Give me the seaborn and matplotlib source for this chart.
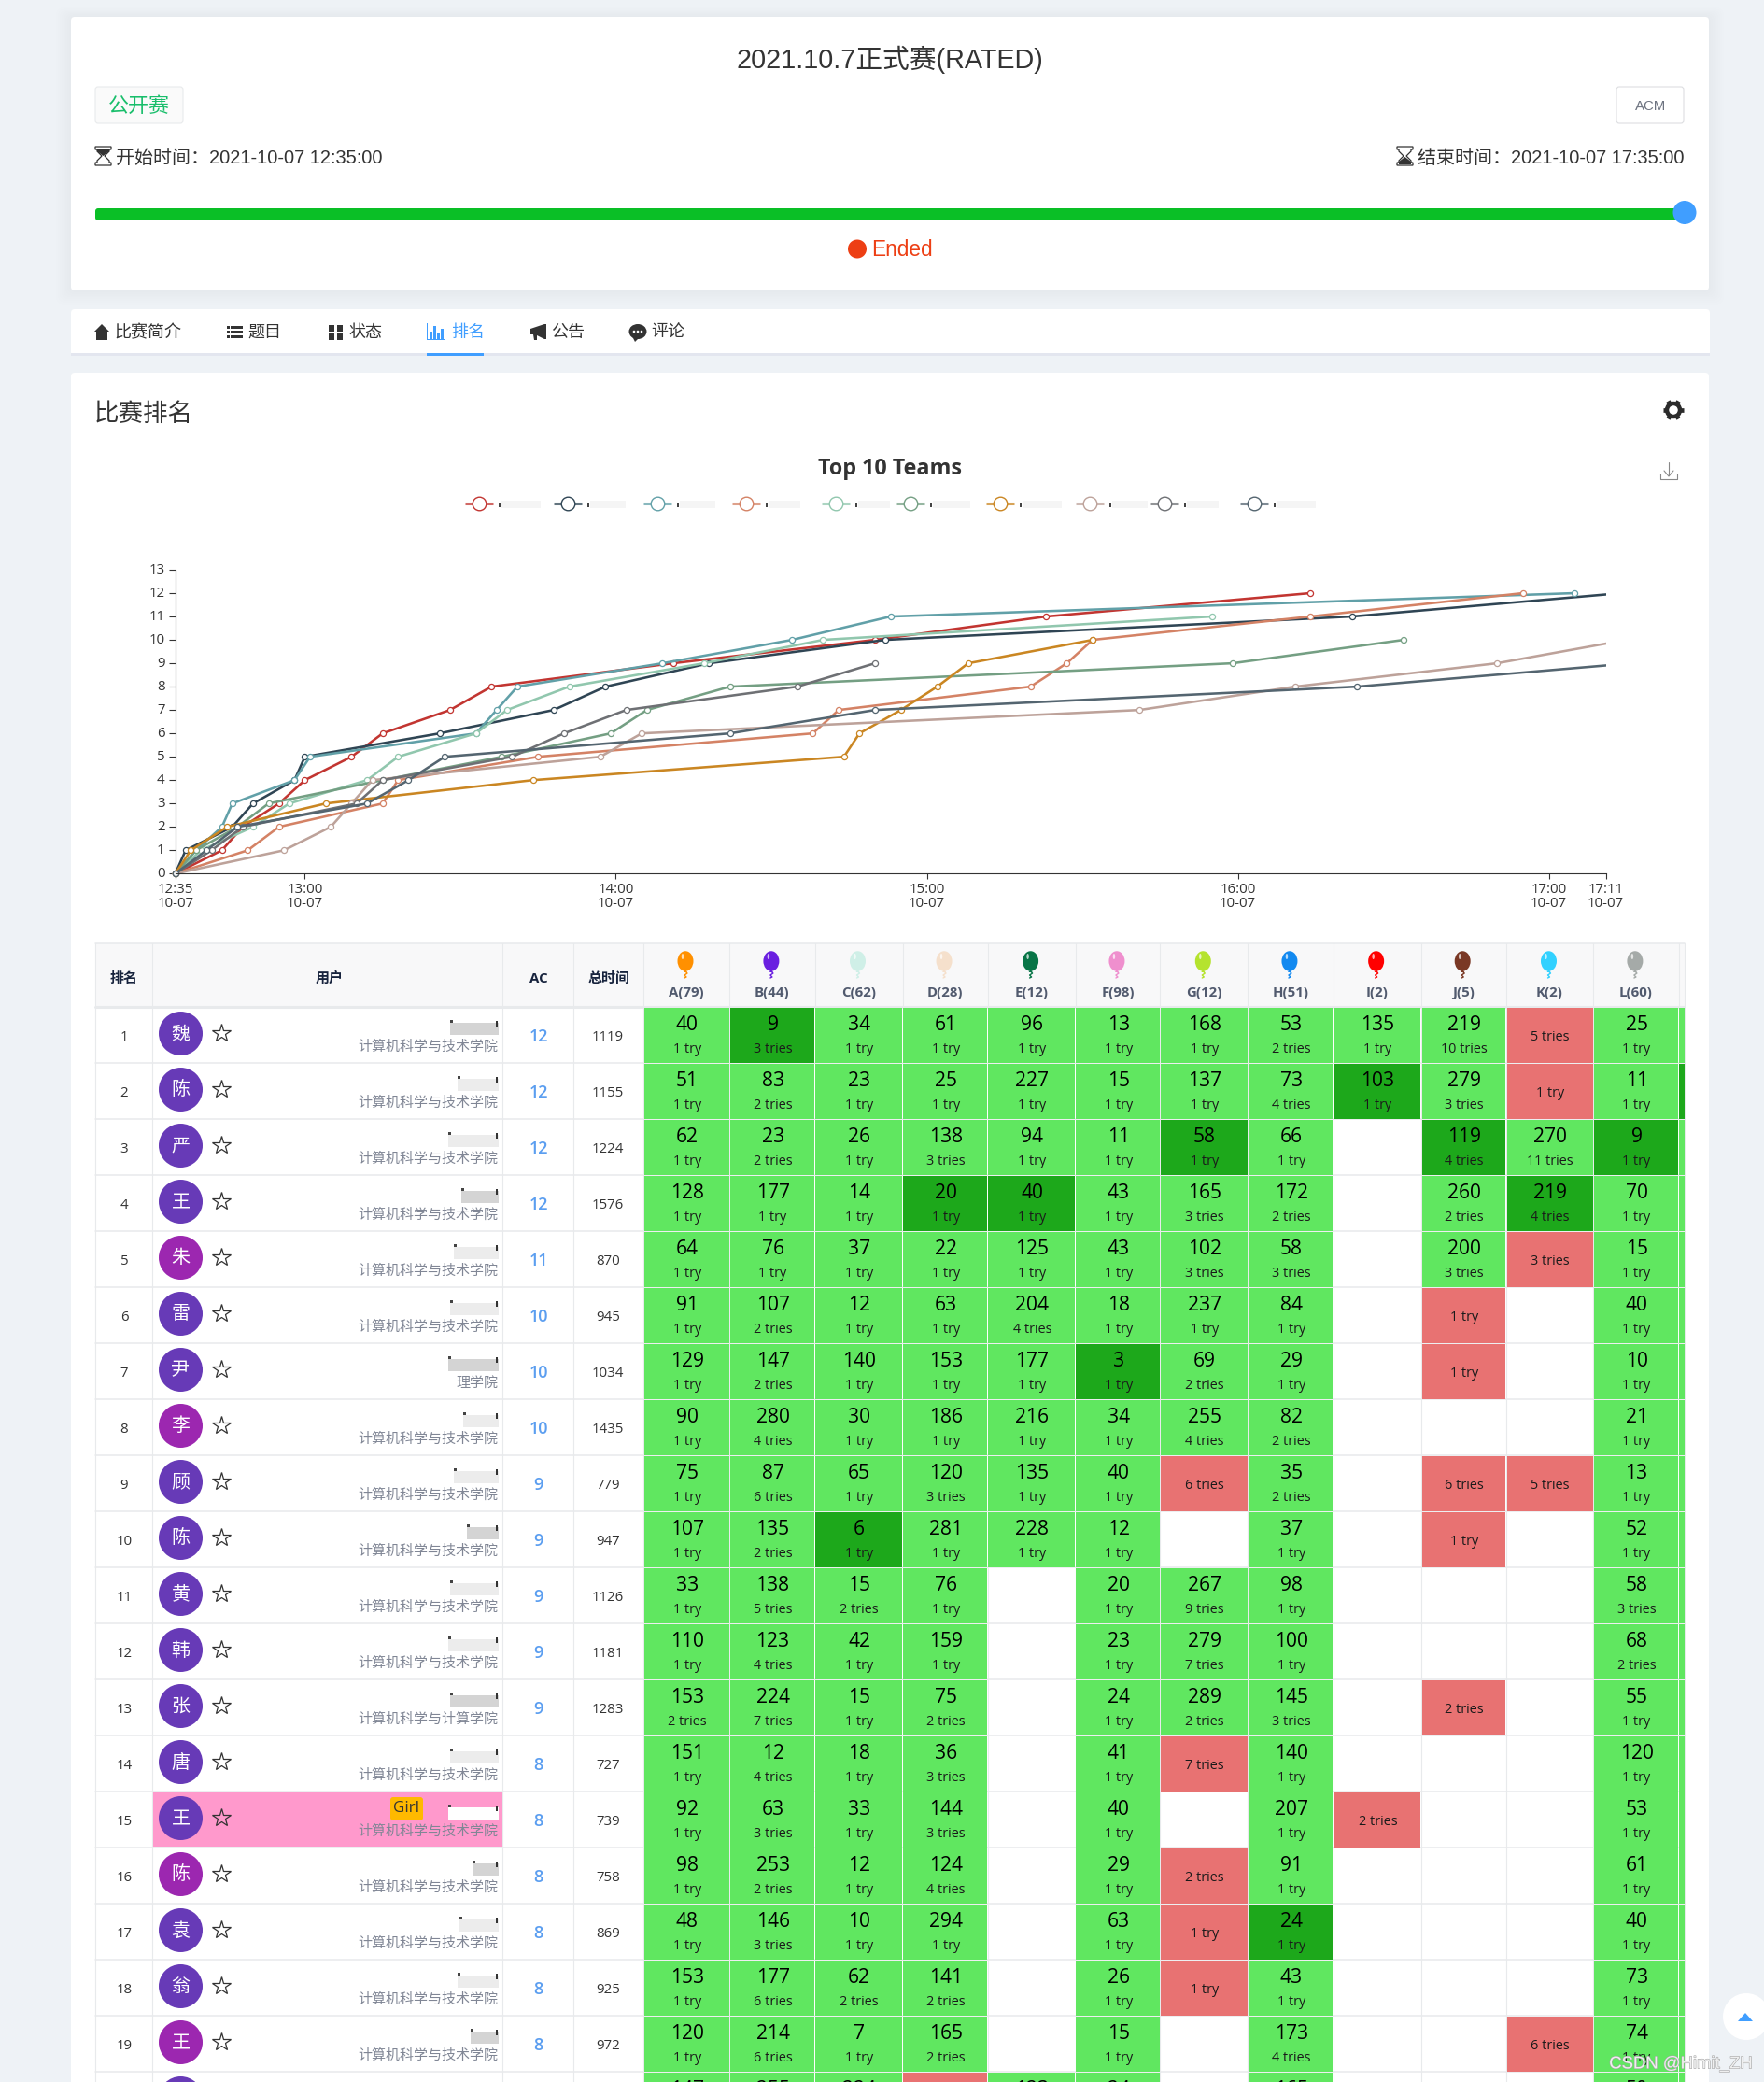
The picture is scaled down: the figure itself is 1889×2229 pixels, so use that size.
import numpy as np
import pandas as pd
import seaborn as sns
import matplotlib
matplotlib.use("Agg")
from matplotlib import pyplot as plt
from matplotlib.patches import Rectangle, Circle, Ellipse, Polygon, FancyBboxPatch
from matplotlib.transforms import Bbox, TransformedBbox, ScaledTranslation
import matplotlib.patheffects as pe

# minutes after 12:35 of each accepted problem, one list per team
TEAM_1 = [9, 13, 20, 25, 34, 40, 53, 61, 96, 135, 168, 219]
TEAM_2 = [2, 11, 15, 23, 25, 51, 73, 83, 103, 137, 227, 279]
TEAM_3 = [4, 9, 11, 23, 26, 58, 62, 66, 94, 119, 138, 270]
TEAM_4 = [14, 20, 40, 43, 70, 123, 128, 165, 172, 177, 219, 260]
TEAM_5 = [5, 15, 22, 37, 43, 58, 64, 76, 102, 125, 200]
TEAM_6 = [4, 12, 18, 40, 63, 84, 91, 107, 204, 237]
TEAM_7 = [3, 10, 29, 69, 129, 132, 140, 147, 153, 177]
TEAM_8 = [21, 30, 34, 38, 82, 90, 186, 216, 255, 280]
TEAM_9 = [7, 13, 35, 40, 65, 75, 87, 120, 135]
TEAM_10 = [6, 12, 37, 45, 52, 107, 135, 228, 281]
TEAMS = [TEAM_1, TEAM_2, TEAM_3, TEAM_4, TEAM_5, TEAM_6, TEAM_7, TEAM_8, TEAM_9, TEAM_10]
TEAM_COLORS = ["#c23531", "#2f4554", "#61a0a8", "#d48265", "#91c7ae",
               "#749f83", "#ca8622", "#bda29a", "#6e7074", "#546570"]
X_TICKS = [0, 25, 85, 145, 205, 265, 276]
X_LABELS = ["12:35\n10-07", "13:00\n10-07", "14:00\n10-07", "15:00\n10-07",
            "16:00\n10-07", "17:00\n10-07", "17:11\n10-07"]

RANKS = list(range(1, 21))
SURNAMES = ["魏", "陈", "严", "王", "朱", "雷", "尹", "李", "顾", "陈",
            "黄", "韩", "张", "唐", "王", "陈", "袁", "翁", "王", "李"]
AVATAR_PURPLE = [4, 7, 15, 18]
AC = [12, 12, 12, 12, 11, 10, 10, 10, 9, 9, 9, 9, 9, 8, 8, 8, 8, 8, 8, 8]
TOTAL = [1119, 1155, 1224, 1576, 870, 945, 1034, 1435, 779, 947,
         1126, 1181, 1283, 727, 739, 758, 869, 925, 972, 1040]
SCHOOLS = ["计算机科学与技术学院"] * 20
SCHOOLS[6] = "理学院"
SCHOOLS[12] = "计算机科学与计算学院"
NICK_WIDTHS = [52, 44, 54, 40, 48, 52, 54, 38, 48, 34, 52, 54, 52, 52, 54, 28, 42, 44, 30, 40]

PROBLEMS = ["A(79)", "B(44)", "C(62)", "D(28)", "E(12)", "F(98)",
            "G(12)", "H(51)", "I(2)", "J(5)", "K(2)", "L(60)"]
BALLOONS = ["#ff9000", "#6a1fe0", "#cfefe7", "#f5e0cc", "#087547", "#ef8fce",
            "#b5e32e", "#1289f0", "#ff0000", "#7a3825", "#32d1ff", "#a5aaa8"]
_ = None
AC_TIME = [
    [40, 9, 34, 61, 96, 13, 168, 53, 135, 219, _, 25],
    [51, 83, 23, 25, 227, 15, 137, 73, 103, 279, _, 11],
    [62, 23, 26, 138, 94, 11, 58, 66, _, 119, 270, 9],
    [128, 177, 14, 20, 40, 43, 165, 172, _, 260, 219, 70],
    [64, 76, 37, 22, 125, 43, 102, 58, _, 200, _, 15],
    [91, 107, 12, 63, 204, 18, 237, 84, _, _, _, 40],
    [129, 147, 140, 153, 177, 3, 69, 29, _, _, _, 10],
    [90, 280, 30, 186, 216, 34, 255, 82, _, _, _, 21],
    [75, 87, 65, 120, 135, 40, _, 35, _, _, _, 13],
    [107, 135, 6, 281, 228, 12, _, 37, _, _, _, 52],
    [33, 138, 15, 76, _, 20, 267, 98, _, _, _, 58],
    [110, 123, 42, 159, _, 23, 279, 100, _, _, _, 68],
    [153, 224, 15, 75, _, 24, 289, 145, _, _, _, 55],
    [151, 12, 18, 36, _, 41, _, 140, _, _, _, 120],
    [92, 63, 33, 144, _, 40, _, 207, _, _, _, 53],
    [98, 253, 12, 124, _, 29, _, 91, _, _, _, 61],
    [48, 146, 10, 294, _, 63, _, 24, _, _, _, 40],
    [153, 177, 62, 141, _, 26, _, 43, _, _, _, 73],
    [120, 214, 7, 165, _, 15, _, 173, _, _, _, 74],
    [147, 255, 224, _, 123, 24, _, 165, _, _, _, 50],
]
# number of tries, 0 means the team never submitted
TRIES = [
    [1, 3, 1, 1, 1, 1, 1, 2, 1, 10, 5, 1],
    [1, 2, 1, 1, 1, 1, 1, 4, 1, 3, 1, 1],
    [1, 2, 1, 3, 1, 1, 1, 1, 0, 4, 11, 1],
    [1, 1, 1, 1, 1, 1, 3, 2, 0, 2, 4, 1],
    [1, 1, 1, 1, 1, 1, 3, 3, 0, 3, 3, 1],
    [1, 2, 1, 1, 4, 1, 1, 1, 0, 1, 0, 1],
    [1, 2, 1, 1, 1, 1, 2, 1, 0, 1, 0, 1],
    [1, 4, 1, 1, 1, 1, 4, 2, 0, 0, 0, 1],
    [1, 6, 1, 3, 1, 1, 6, 2, 0, 6, 5, 1],
    [1, 2, 1, 1, 1, 1, 0, 1, 0, 1, 0, 1],
    [1, 5, 2, 1, 0, 1, 9, 1, 0, 0, 0, 3],
    [1, 4, 1, 1, 0, 1, 7, 1, 0, 0, 0, 2],
    [2, 7, 1, 2, 0, 1, 2, 3, 0, 2, 0, 1],
    [1, 4, 1, 3, 0, 1, 7, 1, 0, 0, 0, 1],
    [1, 3, 1, 3, 0, 1, 0, 1, 2, 0, 0, 1],
    [1, 2, 1, 4, 0, 1, 2, 1, 0, 0, 0, 1],
    [1, 3, 1, 1, 0, 1, 1, 1, 0, 0, 0, 1],
    [1, 6, 2, 2, 0, 1, 1, 1, 0, 0, 0, 1],
    [1, 6, 1, 2, 0, 1, 0, 4, 0, 0, 6, 1],
    [1, 1, 1, 1, 1, 1, 0, 1, 0, 0, 0, 1],
]
FIRST_BLOOD = [(0, 1), (1, 8), (2, 6), (2, 9), (2, 11), (3, 3), (3, 4), (3, 10), (6, 5), (9, 2), (16, 7)]
TABS = ["比赛简介", "题目", "状态", "排名", "公告", "评论"]

sns.set_theme(style="white")
TABLE_FONT = ["Open Sans", "Noto Sans CJK SC", "DejaVu Sans"]
HEAD_FONT = ["Liberation Sans", "Noto Sans CJK SC", "DejaVu Sans"]
plt.rcParams["font.family"] = TABLE_FONT

PT = 0.72  # px to pt at dpi 100
BG = "#eef2f6"
GRID = "#e8eaec"
GREEN = "#60e760"
DARK_GREEN = "#1da81b"
RED = "#e87272"
BLUE = "#409eff"

fig = plt.figure(figsize=(18.9, 22.29), dpi=100, facecolor=BG)
page = fig.add_axes([0, 0, 1, 1])
page.set_xlim(0, 1890)
page.set_ylim(2229, 0)
page.axis("off")


def rect(x0, y0, x1, y1, color, **kw):
    page.add_patch(Rectangle((x0, y0), x1 - x0, y1 - y0, facecolor=color, edgecolor="none", **kw))


def card(x0, y0, x1, y1, shadow=8):
    for i in range(shadow, 0, -1):
        page.add_patch(FancyBboxPatch((x0 - i * 2, y0 - i * 1.2), x1 - x0 + i * 4, y1 - y0 + i * 3,
                                      boxstyle="round,pad=0,rounding_size=8", facecolor="#8090a8",
                                      edgecolor="none", alpha=0.009))
    page.add_patch(FancyBboxPatch((x0, y0), x1 - x0, y1 - y0, boxstyle="round,pad=0,rounding_size=4",
                                  facecolor="white", edgecolor="none"))


def text(x, y, s, px, color="#333333", ha="center", family=None, **kw):
    # y + 2 because the fonts sit a bit high against the browser's text
    return page.text(x, y + 2, s, fontsize=px * PT, color=color, ha=ha, va="center",
                     family=family or TABLE_FONT, **kw)


def hourglass(x, y, full_top):
    page.add_patch(Polygon([(x, y), (x + 17, y), (x + 17, y + 3), (x + 15, y + 3), (x + 15, y + 5),
                            (x + 10, y + 10), (x + 15, y + 15), (x + 15, y + 17), (x + 17, y + 17),
                            (x + 17, y + 20), (x, y + 20), (x, y + 17), (x + 2, y + 17), (x + 2, y + 15),
                            (x + 7, y + 10), (x + 2, y + 5), (x + 2, y + 3), (x, y + 3)],
                           facecolor="white", edgecolor="#333333", lw=0.9))
    if full_top:
        page.add_patch(Polygon([(x + 2, y + 2), (x + 15, y + 2), (x + 15, y + 5), (x + 8.5, y + 10), (x + 2, y + 5)],
                               facecolor="#333333", edgecolor="none"))
    else:
        page.add_patch(Polygon([(x + 2, y + 19), (x + 15, y + 19), (x + 15, y + 16), (x + 8.5, y + 11), (x + 2, y + 16)],
                               facecolor="#333333", edgecolor="none"))


# top card
card(76, 18, 1830, 311)
text(953, 61.5, "2021.10.7正式赛(RATED)", 28.7, family=HEAD_FONT)
page.add_patch(FancyBboxPatch((102, 93), 94, 39, boxstyle="round,pad=0,rounding_size=3",
                              facecolor="#fafafa", edgecolor=GRID, lw=0.8))
text(149, 112, "公开赛", 22, color="#19be6b", family=HEAD_FONT)
page.add_patch(FancyBboxPatch((1731, 93), 72, 39, boxstyle="round,pad=0,rounding_size=3",
                              facecolor="white", edgecolor="#dddee1", lw=0.8))
text(1767.5, 112.5, "ACM", 15, color="#6d7380", family=HEAD_FONT)
hourglass(102, 157, True)
text(124, 167.5, "开始时间：2021-10-07 12:35:00", 20, ha="left", family=HEAD_FONT)
hourglass(1496, 157, False)
text(1804, 167.5, "结束时间：2021-10-07 17:35:00", 20, ha="right", family=HEAD_FONT)
page.add_patch(FancyBboxPatch((102, 223), 1700, 13, boxstyle="round,pad=0,rounding_size=3",
                              facecolor="#0abf26", edgecolor="none"))
page.add_patch(Circle((1804, 227.5), 12.5, facecolor=BLUE, edgecolor="none"))
page.add_patch(Circle((918, 266.5), 10, facecolor="#ed3f14", edgecolor="none"))
text(933, 266, "Ended", 22.6, color="#ed3f14", ha="left", family=HEAD_FONT)

# tab bar
card(76, 331, 1831, 381, shadow=0)
rect(76, 378, 1831, 381, "#e3e6ef")
rect(457, 378, 518, 381, BLUE)
tab_x = [122, 265, 373, 483, 590, 697]
for name, x in zip(TABS, tab_x):
    text(x, 354.5, name, 18, color=BLUE if name == "排名" else "#333333", ha="left", family=HEAD_FONT)
page.add_patch(Polygon([(101, 355), (109, 347), (117, 355), (115, 355), (115, 364), (103, 364), (103, 355)],
                       facecolor="#333333", edgecolor="none"))
for dy in (349, 354, 359):
    rect(243, dy, 246, dy + 3, "#333333")
    rect(247, dy, 260, dy + 3, "#333333")
for gx in (352, 361):
    for gy in (348, 357):
        rect(gx, gy, gx + 6, gy + 7, "#333333")
rect(457, 363, 477, 364, BLUE)
rect(457, 346, 458, 364, BLUE)
for bx, h in zip((460, 464, 468, 472), (8, 14, 6, 11)):
    rect(bx, 363 - h, bx + 2.5, 363, BLUE)
page.add_patch(Polygon([(568, 352), (583, 347), (585, 347), (585, 363), (583, 363), (575, 359), (575, 364), (572, 364), (571, 358), (568, 358)],
                       facecolor="#333333", edgecolor="none"))
page.add_patch(Ellipse((683, 355), 19, 16, facecolor="#333333", edgecolor="none"))
page.add_patch(Polygon([(677, 360), (680, 366), (684, 362)], facecolor="#333333", edgecolor="none"))
for cx in (679, 683, 687):
    page.add_patch(Circle((cx, 355), 1.3, facecolor="white", edgecolor="none"))

# ranking card, runs past the bottom of the picture
card(76, 399, 1830, 2300, shadow=0)
text(101, 441.5, "比赛排名", 26.5, ha="left", family=HEAD_FONT)
for a in np.radians(np.arange(0, 360, 60)):
    page.plot([1792 + 6 * np.cos(a), 1792 + 11 * np.cos(a)], [439 + 6 * np.sin(a), 439 + 11 * np.sin(a)],
              color="#2b2b2b", lw=3.4, solid_capstyle="butt")
page.add_patch(Circle((1792, 439), 7, facecolor="none", edgecolor="#2b2b2b", lw=3.2))

text(953, 499.5, "Top 10 Teams", 23.3, fontweight="bold")
page.plot([1787, 1787], [495, 509], color="#888888", lw=0.8)
page.plot([1782, 1787, 1792], [504, 510, 504], color="#888888", lw=0.8)
page.plot([1778, 1778, 1796, 1796], [507, 513, 513, 507], color="#888888", lw=0.8)

# legend, names are blurred out in the screenshot
legend_x = [513, 608, 704, 799, 895, 975, 1071, 1167, 1247, 1343]
blur_w = [42, 38, 38, 34, 34, 40, 42, 38, 34, 42]
for lx, color, w in zip(legend_x, TEAM_COLORS, blur_w):
    page.plot([lx - 15, lx + 15], [539, 539], color=color, lw=2.2, alpha=0.75, solid_capstyle="butt")
    page.plot([lx], [539], marker="o", ms=10.5, mfc="white", mec=color, mew=1)
    rect(lx + 24, 536, lx + 24 + w, 544, "#f5f5f5")
    rect(lx + 21, 538, lx + 23, 543, "#444444")

# chart
rows = []
for i, times in enumerate(TEAMS):
    rows.append(pd.DataFrame({"team": i, "minute": [0] + times, "solved": range(len(times) + 1)}))
df = pd.concat(rows, ignore_index=True)

left, right, bottom, top = 187.7, 1719.6, 935.3, 610.0
ax = fig.add_axes([left / 1890, 1 - bottom / 2229, (right - left) / 1890, (bottom - top) / 2229])
ax.patch.set_alpha(0)
sns.lineplot(data=df, x="minute", y="solved", hue="team", palette=TEAM_COLORS, estimator=None,
             sort=False, marker="o", markersize=4.4, linewidth=1.85, legend=False, ax=ax)
clip = TransformedBbox(Bbox([[-0.01, -0.02], [1, 1]]), ax.transAxes)
for line in ax.lines:
    line.set_markerfacecolor("white")
    line.set_markeredgecolor(line.get_color())
    line.set_markeredgewidth(0.9)
    line.set_clip_box(clip)
ax.set_xlim(0, 276)
ax.set_ylim(0, 13)
ax.set_xlabel("")
ax.set_ylabel("")
ax.set_xticks(X_TICKS)
ax.set_xticklabels(X_LABELS, linespacing=0.95)
ax.set_yticks(range(14))
ax.tick_params(axis="y", length=5, width=0.8, pad=3, labelsize=15 * PT, colors="#333333", left=True)
ax.tick_params(axis="x", length=4, width=0.8, pad=3.2, labelsize=15 * PT, colors="#333333", bottom=True)
lift = ScaledTranslation(0, 1.5 / 100, fig.dpi_scale_trans)
for label in ax.get_yticklabels():
    label.set_transform(label.get_transform() + lift)
sns.despine(ax=ax)
for side in ("left", "bottom"):
    ax.spines[side].set_color("#333333")
    ax.spines[side].set_linewidth(0.8)

# table
col_x = [102, 162.5, 538, 613.5, 688.7, 781.3, 872.5, 966.5, 1057.6, 1151.6, 1242.3, 1336.3,
         1427.6, 1521.7, 1612.7, 1706.3, 1797.5, 1803.5]
head_top, head_bot = 1010, 1078
row_h = 60
rect(102, head_top, 1803.5, head_bot, "#f8f8f9")
for i in range(21):
    y = head_bot + i * row_h
    page.plot([102, 1803.5], [y, y], color=GRID, lw=1.1 if i else 2.2, zorder=2)
page.plot([102, 1803.5], [head_top, head_top], color=GRID, lw=1.1, zorder=2)
for x in col_x:
    page.plot([x, x], [head_top, 2229], color=GRID, lw=0.8, zorder=2)

text(133, 1045.5, "排名", 15, color="#17233d", fontweight="bold")
text(352.5, 1045.5, "用户", 15, color="#17233d", fontweight="bold")
text(577, 1045.5, "AC", 15, color="#17233d", fontweight="bold")
text(652, 1045.5, "总时间", 15, color="#17233d", fontweight="bold")

first_col = 4
for c, (name, color) in enumerate(zip(PROBLEMS, BALLOONS)):
    cx = (col_x[first_col + c] + col_x[first_col + c + 1]) / 2 - 1
    page.add_patch(Ellipse((cx, 1029), 17, 21.5, facecolor=color, edgecolor="none", zorder=3))
    page.add_patch(Polygon([(cx - 2, 1041), (cx + 2, 1041), (cx, 1038)], facecolor=color, edgecolor="none", zorder=3))
    page.plot([cx, cx + 2, cx - 1, cx + 1, cx - 1], [1040, 1042, 1044, 1046, 1047], color=color, lw=1, zorder=3)
    page.add_patch(Ellipse((cx - 3, 1024), 2.5, 6, facecolor="white", edgecolor="none", alpha=0.7, zorder=3))
    text(cx + 1, 1060.5, name, 15, color="#515a6e", fontweight="bold")

for r, rank in enumerate(RANKS):
    y0 = head_bot + r * row_h
    if rank == 15:
        rect(164, y0 + 0.5, 538, y0 + 59, "#ff99cc", zorder=3)
    text(133, y0 + 30, str(rank), 15, zorder=5)
    avatar = "#9c27b0" if r in AVATAR_PURPLE else "#673ab7"
    page.add_patch(Circle((193.5, y0 + 28.5), 23.5, facecolor=avatar, edgecolor="none", zorder=4))
    text(193.5, y0 + 27, SURNAMES[r], 20, color="white", zorder=5, family=["Noto Sans CJK SC"])
    page.plot([236.5], [y0 + 28], marker="*", ms=15, mfc="none", mec="#333333", mew=0.9, zorder=5)
    blur = NICK_WIDTHS[r]
    rect(534 - blur, y0 + 17, 534, y0 + 30, "white" if rank == 15 else ("#d4d4d4" if r % 3 == 0 else "#ececec"), zorder=4)
    rect(531, y0 + 15, 533, y0 + 21, "#333333", zorder=4)
    rect(534 - blur, y0 + 14, 534 - blur + 3, y0 + 17, "#444444", zorder=4)
    if rank == 15:
        page.add_patch(FancyBboxPatch((418, y0 + 6), 35, 25, boxstyle="round,pad=0,rounding_size=3",
                                      facecolor="#ffb900", edgecolor="none", zorder=4))
        text(435.5, y0 + 16.5, "Girl", 17, zorder=5)
    text(533, y0 + 41, SCHOOLS[r], 15, color="#808695", ha="right", zorder=5)
    text(576.5, y0 + 30, str(AC[r]), 18, color="#5b9ef0", fontweight="semibold", zorder=5)
    text(651, y0 + 30, str(TOTAL[r]), 15, zorder=5)

    for c, (t, n) in enumerate(zip(AC_TIME[r], TRIES[r])):
        x0, x1 = col_x[first_col + c], col_x[first_col + c + 1]
        xc = (x0 + x1) / 2 + 0.7
        label = "1 try" if n == 1 else f"{n} tries"
        if t is not None:
            color = DARK_GREEN if (r, c) in FIRST_BLOOD else GREEN
            rect(x0 + 0.8, y0 + 1, x1 - 0.5, y0 + 59.7, color, zorder=3)
            text(xc, y0 + 17.5, str(t), 21, color="black", zorder=5)
            text(xc, y0 + 43.5, label, 14.4, color="#1a1a1a", zorder=5)
        elif n > 0:
            rect(x0 + 0.8, y0 + 1, x1 - 0.5, y0 + 59.7, RED, zorder=3)
            text(xc, y0 + 30, label, 14.4, color="#1a1a1a", zorder=5)
    # the last problem column is cut off by the table scroll area
    rect(col_x[16] + 0.8, y0 + 1, col_x[17], y0 + 59.7, DARK_GREEN if r == 1 else GREEN, zorder=3)

# back to top button and watermark
page.add_patch(Circle((1870, 2159), 25, facecolor="white", edgecolor="none", zorder=6))
page.add_patch(Polygon([(1861, 2164), (1869, 2155), (1877, 2164)], facecolor=BLUE, edgecolor="none", zorder=7))
text(1800, 2208, "CSDN @Himit_ZH", 18.5, color="#efefef", family=HEAD_FONT, zorder=8,
     path_effects=[pe.withStroke(linewidth=0.8, foreground="#a5a5a5")])

fig.savefig("out.png", dpi=100, facecolor=BG)
